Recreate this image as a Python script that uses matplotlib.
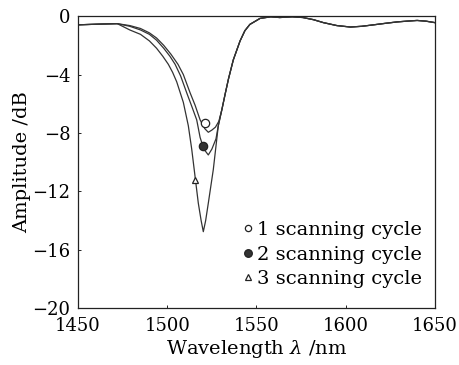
import matplotlib
matplotlib.use("Agg")
import matplotlib.pyplot as plt
from matplotlib.lines import Line2D
import numpy as np

# baseline shared by all three cycles (left and right of the dip)
left_wl = [1450, 1462, 1472]
left_amp = [-0.6, -0.55, -0.52]
right_wl = [1530.6, 1532.5, 1534.3, 1537, 1540.8, 1543.5, 1546.3, 1552, 1558, 1563,
            1570, 1576, 1582, 1587.5, 1595, 1602.6, 1609, 1615.6, 1622, 1628.8,
            1634, 1640, 1645, 1650]
right_amp = [-6.4, -5.3, -4.3, -3.0, -1.7, -1.0, -0.57, -0.16, -0.05, -0.1,
             -0.05, -0.1, -0.25, -0.45, -0.65, -0.75, -0.7, -0.6, -0.5, -0.4,
             -0.35, -0.3, -0.35, -0.45]

# dip region of each scanning cycle
c1_wl = [1479, 1485, 1490, 1494, 1498, 1502, 1506, 1509, 1512.8, 1515.6,
         1518.4, 1521, 1523, 1525, 1527, 1528.9]
c1_amp = [-0.65, -0.85, -1.15, -1.5, -2.0, -2.6, -3.3, -4.0, -5.25, -6.1,
          -7.1, -7.7, -7.95, -7.8, -7.6, -7.2]
c2_wl = [1479, 1485, 1490, 1494, 1498, 1501.5, 1504.4, 1507.5, 1510.9, 1513.5,
         1516.5, 1518.4, 1520.5, 1523, 1525, 1527.3, 1528.6]
c2_amp = [-0.7, -0.95, -1.25, -1.65, -2.2, -2.75, -3.3, -4.1, -5.25, -6.1,
          -7.1, -8.3, -9.1, -9.5, -9.1, -8.4, -7.5]
c3_wl = [1479, 1485, 1490, 1494, 1497.5, 1500.6, 1503, 1505.3, 1509, 1511.8,
         1513.7, 1515.6, 1517.4, 1519, 1520.2, 1521.5, 1523, 1525.8, 1528.6]
c3_amp = [-0.95, -1.25, -1.7, -2.2, -2.75, -3.3, -3.85, -4.5, -5.9, -7.5,
          -9.1, -11.0, -12.8, -14.0, -14.75, -14.0, -12.8, -10.5, -7.5]

# marker positions beside each curve
mark_wl = [1521.3, 1520.2, 1515.6]
mark_amp = [-7.3, -8.9, -11.2]
labels = ["1 scanning cycle", "2 scanning cycle", "3 scanning cycle"]

plt.rcParams["font.family"] = ["DejaVu Serif"]
plt.rcParams["mathtext.fontset"] = "dejavuserif"

fig = plt.figure(figsize=(4.6, 3.65), dpi=100)
ax = fig.add_axes([0.1696, 0.155, 0.776, 0.801])

lc = "#333333"
for wl, amp in [(c1_wl, c1_amp), (c2_wl, c2_amp), (c3_wl, c3_amp)]:
    x = np.concatenate([left_wl, wl, right_wl])
    y = np.concatenate([left_amp, amp, right_amp])
    ax.plot(x, y, color=lc, lw=0.9)

ax.plot(mark_wl[0], mark_amp[0], "o", ms=6, mfc="white", mec="#222", mew=0.9)
ax.plot(mark_wl[1], mark_amp[1], "o", ms=6, mfc="#333", mec="#222", mew=0.9)
ax.plot(mark_wl[2], mark_amp[2], "^", ms=5, mfc="white", mec="#222", mew=0.9)

handles = [
    Line2D([], [], ls="none", marker="o", ms=4.5, mfc="white", mec="#222", mew=0.9),
    Line2D([], [], ls="none", marker="o", ms=5.5, mfc="#333", mec="#222", mew=0.9),
    Line2D([], [], ls="none", marker="^", ms=4, mfc="white", mec="#222", mew=0.9),
]
ax.legend(handles, labels, loc="lower right", bbox_to_anchor=(0.965, 0.07),
          frameon=False, fontsize=14, handlelength=0.4, handletextpad=0.3,
          labelspacing=0.33, borderpad=0, borderaxespad=0)

ax.set_xlim(1450, 1650)
ax.set_ylim(-20, 0)
ax.set_xticks([1450, 1500, 1550, 1600, 1650])
ax.set_yticks([-20, -16, -12, -8, -4, 0])
ax.tick_params(direction="in", length=2, width=0.6, labelsize=13)
ax.tick_params(axis="x", pad=6)
ax.tick_params(axis="y", pad=5.5)
for s in ax.spines.values():
    s.set_linewidth(0.9)
    s.set_color("#222")

ax.set_xlabel("Wavelength $\\lambda$ /nm", fontsize=14, labelpad=2.5)
ax.set_ylabel("Amplitude /dB", fontsize=14, labelpad=1)

fig.savefig("out.png", dpi=100)
